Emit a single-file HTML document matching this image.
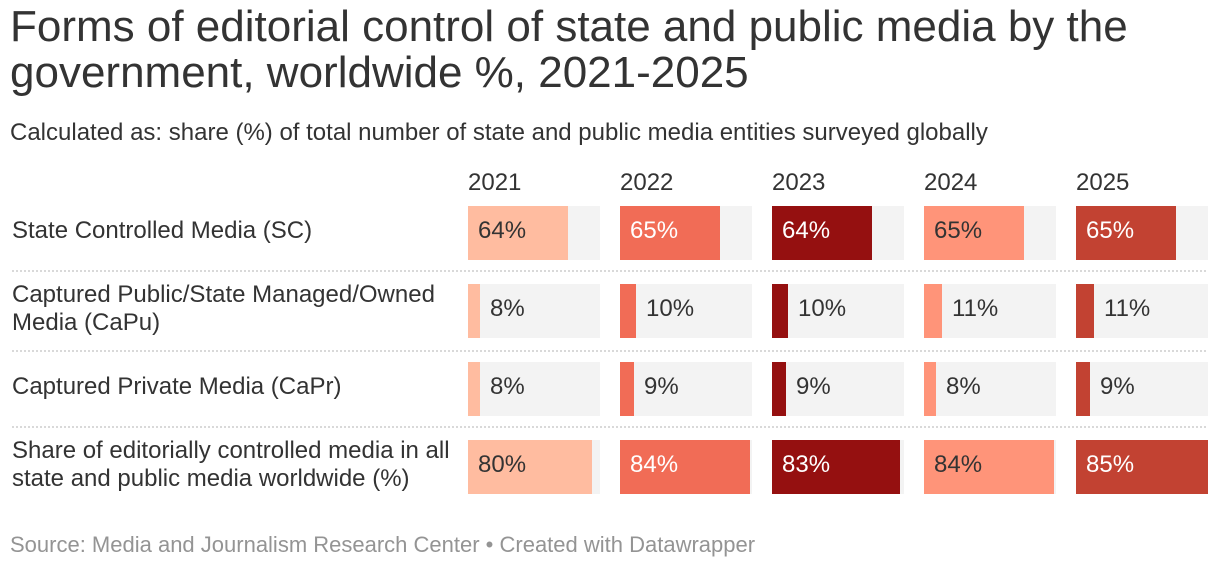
<!DOCTYPE html>
<html lang="en">
<head>
<meta charset="utf-8">
<title>Forms of editorial control</title>
<style>
html,body{margin:0;padding:0;background:#fff;}
body{width:1220px;height:568px;overflow:hidden;position:relative;font-family:"Liberation Sans",Arial,sans-serif;color:#333;}
.t{position:absolute;white-space:nowrap;}
#chart-title{left:10px;font-size:44px;line-height:44px;color:#333;}
.sub{left:10px;top:120px;font-size:24px;line-height:26px;}
.rowlabel{left:12px;font-size:24px;line-height:28px;}
.hdr{font-size:24px;line-height:28px;top:169px;}
.val{font-size:24px;line-height:28px;}
.bg{position:absolute;background:#f3f3f3;height:54px;width:132px;}
.bar{position:absolute;height:54px;}
.sep{position:absolute;left:12px;width:1196px;height:2px;background-image:repeating-linear-gradient(to right,#d9d9d9 0,#d9d9d9 2px,transparent 2px,transparent 4px);}
#source{left:10px;top:532px;font-size:22px;line-height:26px;color:#949494;}
</style>
</head>
<body>
<div class="t" id="chart-title" style="top:5px">Forms of editorial control of state and public media by the</div>
<div class="t" id="chart-title-2" style="left:10px;top:51px;font-size:44px;line-height:44px;">government, worldwide %, 2021-2025</div>
<div class="t sub">Calculated as: share (%) of total number of state and public media entities surveyed globally</div>
<div id="table"></div>
<div class="t" id="source">Source: Media and Journalism Research Center • Created with Datawrapper</div>
<script>
const years = ["2021", "2022", "2023", "2024", "2025"];
const rowLabels = [
  ["State Controlled Media (SC)"],
  ["Captured Public/State Managed/Owned", "Media (CaPu)"],
  ["Captured Private Media (CaPr)"],
  ["Share of editorially controlled media in all", "state and public media worldwide (%)"]
];
const valuesSC = [64, 65, 64, 65, 65];
const valuesCaPu = [8, 10, 10, 11, 11];
const valuesCaPr = [8, 9, 9, 8, 9];
const valuesTotal = [80, 84, 83, 84, 85];
const seriesByRow = [valuesSC, valuesCaPu, valuesCaPr, valuesTotal];
const yearColors = ["#ffbca0", "#f16c56", "#951010", "#ff9479", "#c24232"];
const yearTextColors = ["#333333", "#ffffff", "#ffffff", "#333333", "#ffffff"];

const table = document.getElementById('table');
const domainMax = 85;
const colLeft = c => 468 + c * 152;
const rowTop = r => 206 + r * 78;
const colWidth = 132;
const xScale = v => Math.round(v / domainMax * colWidth / 2) * 2;
const sepTop = r => rowTop(r) - (r === 2 ? 12 : 14);

function place(el, left, top) {
  el.style.left = left + 'px';
  el.style.top = top + 'px';
  table.appendChild(el);
}

years.forEach((year, c) => {
  const h = document.createElement('div');
  h.className = 't hdr';
  h.textContent = year;
  
  
  h.style.left = colLeft(c) + 'px';
  table.appendChild(h);
});

rowLabels.forEach((lines, r) => {
  const top = rowTop(r);
  const startY = top + 27 - lines.length * 14 - 2;
  lines.forEach((line, i) => {
    const l = document.createElement('div');
    l.className = 't rowlabel';
    l.textContent = line;
    
    
    place(l, 12, startY + i * 28);
  });
  if (r > 0) {
    const s = document.createElement('div');
    s.className = 'sep';
    
    
    s.style.top = sepTop(r) + 'px';
    table.appendChild(s);
  }
  seriesByRow[r].forEach((value, c) => {
    const left = colLeft(c);
    const bg = document.createElement('div');
    bg.className = 'bg';
    
    
    place(bg, left, top);

    const w = xScale(value);
    const bar = document.createElement('div');
    bar.className = 'bar';
    
    
    bar.style.width = w + 'px';
    bar.style.background = yearColors[c];
    place(bar, left, top);

    const inside = w > 40;
    const t = document.createElement('div');
    t.className = 't val';
    t.textContent = value + '%';
    
    
    t.style.color = inside ? yearTextColors[c] : '#333333';
    place(t, inside ? left + 10 : left + w + 10, top + 11);
  });
});
</script>
</body>
</html>
